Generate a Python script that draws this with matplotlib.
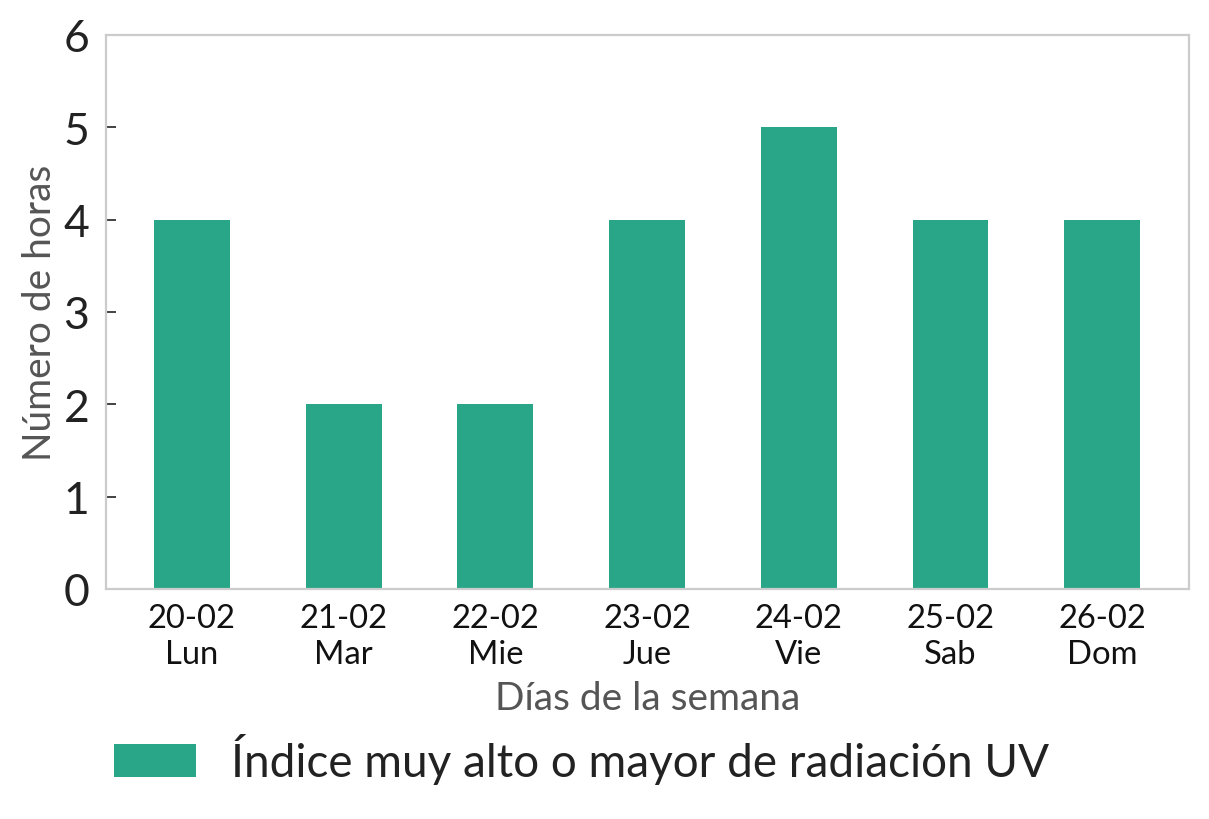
import matplotlib
matplotlib.use("Agg")
import matplotlib.pyplot as plt

fechas = ["20-02", "21-02", "22-02", "23-02", "24-02", "25-02", "26-02"]
dias = ["Lun", "Mar", "Mie", "Jue", "Vie", "Sab", "Dom"]
horas = [4, 2, 2, 4, 5, 4, 4]
serie = "Índice muy alto o mayor de radiación UV"

plt.rcParams['font.family'] = ['Lato', 'DejaVu Sans']

fig = plt.figure(figsize=(6.045, 4.1), dpi=200)
ax = fig.add_axes([106/1209, 1-590/820, (1189-106)/1209, (590-36)/820])

x = list(range(len(fechas)))
ax.bar(x, horas, width=0.5, color="#29a687", label=serie, zorder=2)
ax.set_xlim(-0.566, 6.572)
ax.set_ylim(0, 6)
ax.set_yticks(range(0, 7))
ax.set_xticks(x)
ax.set_xticklabels([f"{f}\n{d}" for f, d in zip(fechas, dias)], fontsize=11.8, color="#111111", linespacing=1.25)
ax.tick_params(axis='y', direction='in', length=3.5, width=0.6, labelsize=16, colors="#222222", pad=6)
ax.tick_params(axis='x', direction='in', length=3, width=0.6, pad=5)
for s in ax.spines.values():
    s.set_color("#cccccc")
    s.set_linewidth(0.8)
ax.set_ylabel("Número de horas", fontsize=14, color="#555555", labelpad=2)
ax.set_xlabel("Días de la semana", fontsize=14, color="#555555", labelpad=4)

leg = fig.legend(loc="center left", bbox_to_anchor=(0.06, 1-760/820), frameon=False,
                 fontsize=16.5, handlelength=1.8, handleheight=0.7, handletextpad=0.75,
                 labelcolor="#222222")
fig.savefig("out.png", dpi=200)
